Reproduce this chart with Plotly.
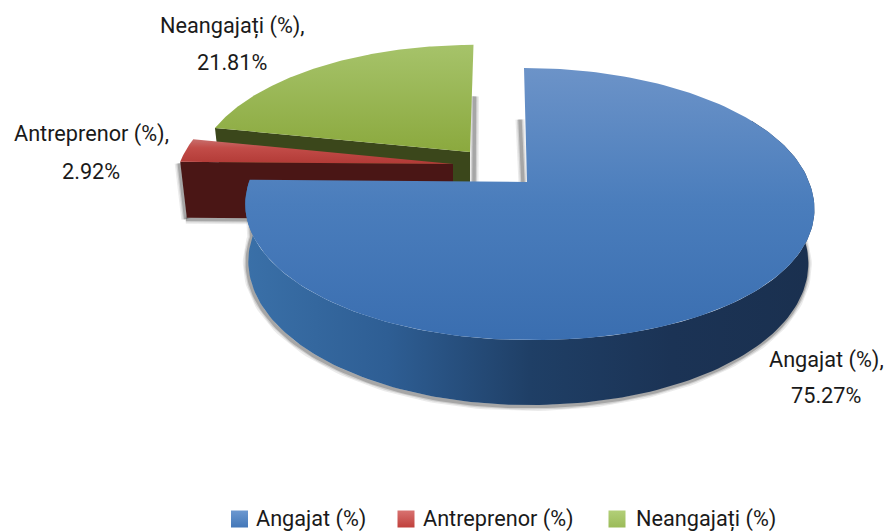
import math
import numpy as np
import plotly.graph_objects as go

categories = ["Angajat (%)", "Antreprenor (%)", "Neangajați (%)"]
values = [75.27, 2.92, 21.81]

# styling per slice
apex_x = [527, 453, 470]
apex_y = [182, 164, 152]
scale_x = [1.0, 0.977, 0.962]
scale_y = [1.0, 0.97, 0.94]
bottom_x = [1.0, 0.99, 0.99]
lean = [-3.0, 0.0, 3.5]
shift = [2.0, 0.0, 0.0]
bulge = [5.0, 0.0, 0.0]
top_scale = [
    [[0, "#6C93C8"], [0.5, "#4A7DBC"], [1, "#3A6EB0"]],
    [[0, "#C86E6C"], [0.35, "#C24C48"], [1, "#B23A36"]],
    [[0, "#A6C36A"], [1, "#8BA93E"]],
]
side_scale = [
    [[0, "#3A70A8"], [0.25, "#2E5E94"], [0.5, "#1F3F66"], [0.75, "#1B3355"], [1, "#1A304F"]],
    [[0, "#4A1615"], [1, "#4A1615"]],
    [[0, "#3B471B"], [1, "#3B471B"]],
]
legend_colors = ["#4377B8", "#C0403C", "#9BBB59"]
legend_tops = ["#6C98D0", "#D87270", "#B2CF78"]
label_x = [826, 91, 232]
label_y = [[360, 395], [134, 171], [26, 62]]
legend_marker_x = [239.5, 406, 617]
legend_text_x = [255, 422, 635]
legend_y = 519

R, D, C = 280.0, 132.4, 0.1617      # top plane of the disc
R2, D2, DEPTH = 276.0, 140.0, 56.0  # bottom plane


def project(theta, i, bottom=False):
    u, v = np.sin(theta), np.cos(theta)
    k = 1 + C * v
    rx, ry, off = (R2, D2, DEPTH) if bottom else (R, D, 0.0)
    sx = scale_x[i] * (bottom_x[i] if bottom else 1.0)
    side = np.maximum(u, 0) * np.maximum(-v, 0) * 2
    b = bulge[i] * (0.4 if bottom else 1.0)
    x = apex_x[i] + sx * rx * u / k + lean[i] * np.maximum(v, 0) + b * side
    x = x + (shift[i] / 2 if bottom else shift[i] * np.abs(u))
    y = apex_y[i] + off - scale_y[i] * ry * v / k + 0.5 * b * side
    return x, y


total = sum(values)
edges = np.cumsum([0] + values) / total * 2 * math.pi
fig = go.Figure()


def poly(xs, ys, colorscale, orient, start, stop):
    fig.add_trace(go.Scatter(
        x=list(xs) + [xs[0]], y=list(ys) + [ys[0]], mode="lines", fill="toself",
        line=dict(width=0), hoverinfo="skip", showlegend=False,
        fillgradient=dict(type=orient, colorscale=colorscale, start=start, stop=stop)))


def shadow(xs, ys):
    for w, a in [(9, 0.10), (6, 0.16), (3.5, 0.28)]:
        fig.add_trace(go.Scatter(
            x=[p - 1 for p in xs], y=[p + 1.5 for p in ys], mode="lines",
            line=dict(width=w, color=f"rgba(60,60,60,{a})"),
            hoverinfo="skip", showlegend=False))


walls = {}
for i in range(len(values)):
    t = np.linspace(edges[i], edges[i + 1], 160)
    tx, ty = project(t, i)
    if i == 0:
        t2 = np.linspace(math.radians(60), edges[1], 160)
        ax, ay = project(t2, i)
        bx, by = project(t2, i, bottom=True)
        wx = list(ax) + list(bx[::-1])
        wy = list(ay) + list(by[::-1])
        shadow(list(bx) + [ax[-1]], list(by) + [ay[-1]])
        shadow([tx[0] - 3, apex_x[0] - 3], [ty[0] + 50, apex_y[0]])
    else:
        ax0, ay0 = project(edges[i], i)
        bx0, by0 = project(edges[i], i, bottom=True)
        ex, ey = apex_x[i], apex_y[i]
        wx = [ax0, ex, ex, bx0]
        wy = [ay0, ey, ey + DEPTH, by0]
        if i == 1:
            shadow([wx[3], wx[2]], [wy[3], wy[2]])
            shadow([wx[0], wx[3]], [wy[0], wy[3]])
        if i == 2:
            shadow([tx[-1] + 2, ex + 5], [ty[-1] + 50, ey + 30])
    walls[i] = (wx, wy, tx, ty)

# painted back to front
for i in (2, 1, 0):
    wx, wy, tx, ty = walls[i]
    poly(wx, wy, side_scale[i], "horizontal", min(wx), max(wx))
    fx = list(tx) + [apex_x[i]]
    fy = list(ty) + [apex_y[i]]
    poly(fx, fy, top_scale[i], "vertical", min(fy), max(fy))

for i, name in enumerate(categories):
    fig.add_trace(go.Scatter(
        x=[legend_marker_x[i]], y=[legend_y], mode="markers", name=name, showlegend=False,
        hoverinfo="skip",
        marker=dict(symbol="square", size=17, color=legend_tops[i],
                    gradient=dict(type="vertical", color=legend_colors[i]))))
    fig.add_annotation(x=legend_text_x[i], y=legend_y, text=name, showarrow=False,
                       xanchor="left", yanchor="middle", xshift=-1)
    fig.add_annotation(x=label_x[i], y=label_y[i][0], text=f"{name},", showarrow=False,
                       xanchor="center", yanchor="middle")
    fig.add_annotation(x=label_x[i], y=label_y[i][1], text=f"{values[i]:.2f}%", showarrow=False,
                       xanchor="center", yanchor="middle")

fig.update_layout(
    width=884, height=531, margin=dict(l=0, r=0, t=0, b=0, pad=0),
    paper_bgcolor="white", plot_bgcolor="white", showlegend=False,
    font=dict(family="Roboto", size=21.7, color="#1a1a1a"),
    xaxis=dict(range=[0, 884], visible=False, fixedrange=True),
    yaxis=dict(range=[531, 0], visible=False, fixedrange=True),
)
fig.write_html("out.html", config=dict(displayModeBar=False),
               post_script="document.body.style.margin='0';document.documentElement.style.overflow='hidden';")
